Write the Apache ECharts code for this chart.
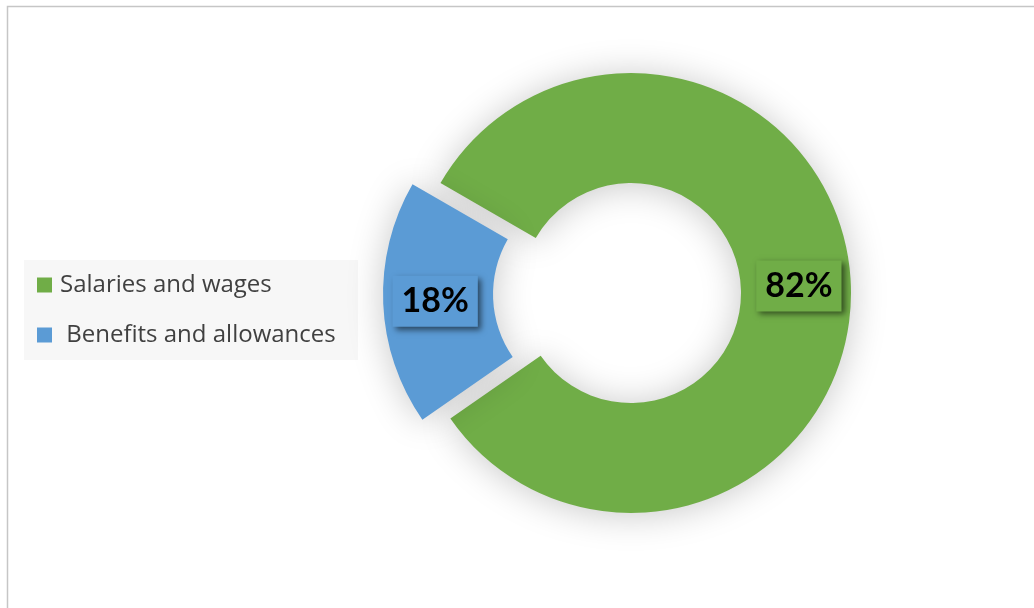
<!DOCTYPE html>
<html>
<head>
<meta charset="utf-8">
<script src="https://cdn.jsdelivr.net/npm/echarts@6/dist/echarts.min.js"></script>
<style>
  html, body { margin: 0; padding: 0; background: #ffffff; }
  #chart { width: 1034px; height: 608px; }
</style>
</head>
<body>
<div id="chart"></div>
<script>
// Compensation split (percent of total)
const categories = ['Salaries and wages', 'Benefits and allowances'];
const shares = [82, 18];
const colors = ['#70AD47', '#5B9BD5'];
// The second category is pulled out of the ring
const explodedIndex = 1;

const chart = echarts.init(document.getElementById('chart'), null, { renderer: 'canvas' });

const pieData = categories.map((name, i) => ({
  name: name,
  value: shares[i],
  selected: i === explodedIndex,
  itemStyle: { color: colors[i] },
  select: { itemStyle: { color: colors[i], borderWidth: 0 } },
  label: { backgroundColor: colors[i] }
}));

chart.setOption({
  animation: false,
  backgroundColor: '#ffffff',
  graphic: [
    {
      // outer frame
      type: 'rect',
      z: 0,
      shape: { x: 7.5, y: 6.5, width: 1100, height: 700 },
      style: { fill: 'none', stroke: '#c6c6c6', lineWidth: 1.5 }
    },
    {
      // legend panel
      type: 'rect',
      z: 0,
      shape: { x: 24, y: 260, width: 334, height: 100 },
      style: { fill: '#f7f7f7' }
    }
  ],
  legend: {
    orient: 'vertical',
    left: 24,
    top: 260,
    padding: [13, 13, 13, 13],
    itemWidth: 15,
    itemHeight: 15,
    itemGap: 26,
    icon: 'rect',
    selectedMode: false,
    data: categories,
    formatter: function (name) {
      return name === categories[1] ? ' ' + name : name;
    },
    textStyle: {
      fontFamily: 'Open Sans',
      fontSize: 24,
      lineHeight: 24,
      padding: [0, 0, 0, 3],
      color: '#404040'
    }
  },
  series: [{
    type: 'pie',
    center: [631, 293],
    radius: [110, 220],
    startAngle: 150,
    clockwise: true,
    selectedMode: 'single',
    selectedOffset: 28,
    avoidLabelOverlap: false,
    emphasis: { disabled: true },
    itemStyle: {
      shadowBlur: 36,
      shadowColor: 'rgba(0,0,0,0.22)',
      shadowOffsetX: 0,
      shadowOffsetY: 2
    },
    label: {
      show: true,
      position: 'inside',
      formatter: '{c}%',
      fontFamily: 'Lato',
      fontWeight: 'bold',
      fontSize: 34,
      lineHeight: 41,
      color: '#000000',
      padding: [5, 9, 5, 9],
      shadowBlur: 6,
      shadowColor: 'rgba(0,0,0,0.55)',
      shadowOffsetX: 3,
      shadowOffsetY: 3
    },
    labelLine: { show: false },
    data: pieData
  }]
});
</script>
</body>
</html>
